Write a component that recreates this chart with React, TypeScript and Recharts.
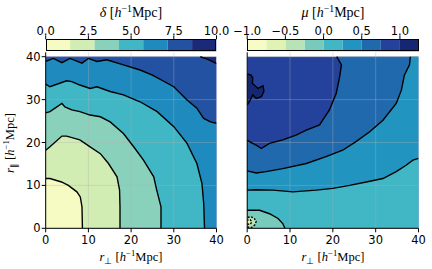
import React from 'react';
import { ComposedChart, Area, Line, XAxis, YAxis, ReferenceLine, BarChart, Bar } from 'recharts';

type Pair = [number, number];

// axis ticks shared by both panels
const axisTicks = [0, 10, 20, 30, 40];
const vGrid = [10, 20, 30];
const hGrid = [10, 20, 30, 40];

// colour bar levels / ticks
const deltaLevels = [0, 1.43, 2.86, 4.29, 5.71, 7.14, 8.57, 10];
const deltaColors = ['#f5fbc2', '#d2edb3', '#89d1ba', '#41b6c4', '#1e8abd', '#2352a2', '#192a7a'];
const deltaTicks = [0, 2.5, 5, 7.5, 10];

const muLevels = [-1, -0.75, -0.5, -0.25, 0, 0.25, 0.5, 0.75, 1, 1.25];
const muColors = ['#f7fcc7', '#e0f3b2', '#b7e3b6', '#78cabc', '#41b6c4', '#2195c0', '#2169ad', '#24429b', '#152773'];
const muTicks = [-1, -0.5, 0, 0.5, 1];

// left panel (delta) contour lines, (r_perp, r_par)
const deltaEdge: Pair[] = [[0, 40], [40, 40]];
const deltaC6: Pair[] = [[0, 40], [36.2, 40], [38, 39.4], [39.8, 38.5], [40, 38.4]];
const deltaC5: Pair[] = [[0, 38.9], [1.8, 39.6], [3.8, 38.6], [5.7, 39.6], [8.5, 38.5], [10, 39.6], [12, 38.9], [14.3, 39.3], [18.2, 38.1], [22.1, 36.9], [25, 35.7], [30, 33], [33.1, 29.9], [35.4, 28], [37, 25.6], [38.6, 24.8], [40, 24.5]];
const deltaC4: Pair[] = [[0, 33.6], [1, 33], [4.9, 34.4], [6.1, 34.2], [8, 33.4], [10.4, 32.6], [12, 33], [15.1, 31.9], [18.2, 31.1], [22.1, 29.5], [26.1, 27.2], [30, 23.7], [33.1, 19.8], [35.4, 15.1], [36.6, 10.4], [37, 5.8], [37.2, 0]];
const deltaC3: Pair[] = [[0, 26.9], [1, 27.2], [3.8, 29.1], [4.5, 28.3], [6.1, 27.6], [8, 27.2], [10.4, 26.4], [12.8, 26], [15.1, 24.8], [18.2, 22.1], [20.6, 19], [22.9, 15.9], [25.3, 12], [26, 8.9], [27, 5], [27, 0]];
const deltaC2: Pair[] = [[0, 18.2], [1, 19], [3.8, 21.5], [4.9, 21.5], [8, 20.6], [10.4, 19], [12.8, 17.4], [14.7, 15.1], [16.7, 12], [17.3, 8.9], [17.4, 5], [17.4, 0]];
const deltaC1: Pair[] = [[0, 11.6], [1, 11.6], [3.7, 10.8], [5.3, 10], [7.3, 8.5], [8.1, 7.3], [8.5, 5], [8.6, 0]];

// right panel (mu) contour lines
const muEdge: Pair[] = [[0, 40], [40, 40]];
const muInner: Pair[] = [[0, 36], [0.9, 35.7], [1.3, 35], [1.2, 33.8], [2.5, 32.6], [3.7, 33.2], [3.9, 31.9], [3.3, 30.7], [2.1, 30.3], [1.3, 31.1], [0.5, 29.5], [0, 28.7]];
const muA: Pair[] = [[0, 20.6], [0.5, 20.2], [2.1, 19.4], [3.3, 18.6], [5.2, 19.8], [8.3, 20.6], [11.4, 21.7], [13.8, 22.9], [16.9, 24.1], [19.2, 27.6], [20.8, 31.5], [21.6, 35.4], [22, 38.1], [20.9, 40]];
const muB: Pair[] = [[0, 13.4], [2.1, 12.9], [4.4, 13.2], [8.3, 13.9], [13.8, 15.1], [18.4, 16.7], [22.3, 18.2], [25.4, 20.2], [28.6, 22.5], [31.7, 25.2], [34.8, 29.1], [36, 32.2], [36.7, 35.7], [37.9, 38.1], [38.1, 40]];
const muC: Pair[] = [[0, 8.9], [2.1, 9], [6, 8.9], [10.7, 8.5], [16.1, 8.9], [20, 9.3], [23.9, 10], [27.8, 10.8], [31.7, 11.6], [34.8, 13.2], [37.1, 14.7], [38.7, 15.9], [40, 16.3]];
const muD: Pair[] = [[0, 4.2], [2.9, 4.2], [5.2, 3.4], [7.2, 2.3], [8.3, 1.1], [8.8, 0]];
const muE: Pair[] = [[0, 0.3], [1, 0.2], [1.8, 0.8], [2.1, 1.6], [1.6, 2.4], [0.8, 2.7], [0, 2.5]];
const muF: Pair[] = [[0, 1], [0.7, 0.9], [1.1, 1.5], [0.7, 2], [0, 1.9]];

const H = 269;
const PLOT_TOP = 52.3;
const PLOT_BOTTOM = 228.3;
const Y_MAX = 41.03;
const CB_TOP = 39.3;
const CB_BOTTOM = 50.8;

const tickStyle = { fontSize: 11.5, fontFamily: 'DejaVu Sans', fill: '#000' };
const mathFont = 'Liberation Serif';

const rows = (p: Pair[]) => p.map(([x, y]) => ({ x, y }));
const fmt = (v: number) => (v < 0 ? '\u2212' + Math.abs(v).toFixed(1) : v.toFixed(1));

type Region = { pts: Pair[]; color: string };
type Contour = { pts: Pair[]; dashed?: boolean };

function Panel({ x0, x1, chartLeft, chartWidth, regions, contours, yLabels }: {
  x0: number; x1: number; chartLeft: number; chartWidth: number;
  regions: Region[]; contours: Contour[]; yLabels: boolean;
}) {
  return (
    <div style={{ position: 'absolute', left: chartLeft, top: 0 }}>
      <ComposedChart
        width={chartWidth}
        height={H}
        margin={{ top: PLOT_TOP, bottom: H - PLOT_BOTTOM - 30, left: x0 - chartLeft - 30, right: chartLeft + chartWidth - x1 }}
      >
        <XAxis type="number" dataKey="x" domain={[0, 40]} ticks={axisTicks} height={30} tickSize={4} tickMargin={4}
          stroke="#000" tick={tickStyle} interval={0} allowDataOverflow />
        <XAxis xAxisId="top" orientation="top" type="number" dataKey="x" domain={[0, 40]} ticks={axisTicks} height={0}
          mirror tick={false} tickSize={4.4} stroke="#000" interval={0} />
        <YAxis type="number" domain={[0, Y_MAX]} ticks={axisTicks} width={30} tickSize={4} tickMargin={1}
          tick={yLabels ? tickStyle : false} stroke="#000" interval={0} allowDataOverflow />
        <YAxis yAxisId="right" orientation="right" type="number" domain={[0, Y_MAX]} ticks={axisTicks} width={0}
          tickSize={4} tick={false} stroke="#000" interval={0} />
        {regions.map((r, i) => (
          <Area key={`r${i}`} data={rows(r.pts)} dataKey="y" type="linear" fill={r.color} fillOpacity={1}
            stroke="none" dot={false} activeDot={false} isAnimationActive={false} />
        ))}
        {vGrid.map((t) => (
          <ReferenceLine key={`v${t}`} x={t} stroke="#b0b0b0" strokeOpacity={0.45} strokeWidth={0.8} />
        ))}
        {hGrid.map((t) => (
          <ReferenceLine key={`h${t}`} y={t} stroke="#b0b0b0" strokeOpacity={0.45} strokeWidth={0.8} />
        ))}
        {contours.map((c, i) => (
          <Line key={`c${i}`} data={rows(c.pts)} dataKey="y" type="linear" stroke="#000" strokeWidth={1.4}
            strokeDasharray={c.dashed ? '2 1.5' : undefined} dot={false} activeDot={false} isAnimationActive={false} />
        ))}
      </ComposedChart>
    </div>
  );
}

function ColorBar({ levels, colors, ticks, x0, x1, chartLeft, chartWidth }: {
  levels: number[]; colors: string[]; ticks: number[]; x0: number; x1: number; chartLeft: number; chartWidth: number;
}) {
  const bands = colors.map((color, i) => ({ key: `b${i}`, lo: levels[i], hi: levels[i + 1], color }));
  const row: Record<string, number | string> = { name: 'cb' };
  bands.forEach((b) => { row[b.key] = b.hi <= 0 ? b.lo - b.hi : b.hi - b.lo; });
  const order = [...bands.filter((b) => b.hi <= 0).reverse(), ...bands.filter((b) => b.hi > 0)];
  const CH = 60;
  return (
    <div style={{ position: 'absolute', left: chartLeft, top: 0 }}>
      <BarChart
        layout="vertical"
        width={chartWidth}
        height={CH}
        data={[row]}
        stackOffset="sign"
        barCategoryGap={0}
        margin={{ top: CB_TOP - 20, bottom: CH - CB_BOTTOM, left: x0 - chartLeft, right: chartLeft + chartWidth - x1 }}
      >
        <XAxis type="number" orientation="top" domain={[levels[0], levels[levels.length - 1]]} ticks={ticks}
          height={20} interval={0} tickSize={4} tickMargin={0.5} tickFormatter={fmt} tick={tickStyle}
          stroke="#000" axisLine={false} allowDataOverflow />
        <YAxis type="category" dataKey="name" hide />
        {order.map((b) => (
          <Bar key={b.key} dataKey={b.key} stackId="cb" fill={b.color} isAnimationActive={false} />
        ))}
      </BarChart>
      <div style={{
        position: 'absolute', left: x0 - chartLeft, top: CB_TOP, width: x1 - x0, height: CB_BOTTOM - CB_TOP,
        border: '0.8px solid #000', boxSizing: 'border-box',
      }} />
    </div>
  );
}

const unit = (size: number) => {
  const sup = size * 0.7;
  const up = size * 0.38;
  return [
    <tspan key="a"> [</tspan>,
    <tspan key="b" fontStyle="italic">h</tspan>,
    <tspan key="c" fontSize={sup} dy={-up}>{'\u2212'}1</tspan>,
    <tspan key="d" dy={up}>Mpc]</tspan>,
  ];
};

const App: React.FC = () => {
  return (
    <div style={{ position: 'absolute', left: 0, top: 0, width: 432, height: H, background: '#fff' }}>
      <Panel
        x0={45.7} x1={216.5} chartLeft={0} chartWidth={224} yLabels
        regions={[
          { pts: deltaEdge, color: deltaColors[6] },
          { pts: deltaC6, color: deltaColors[5] },
          { pts: deltaC5, color: deltaColors[4] },
          { pts: deltaC4, color: deltaColors[3] },
          { pts: deltaC3, color: deltaColors[2] },
          { pts: deltaC2, color: deltaColors[1] },
          { pts: deltaC1, color: deltaColors[0] },
        ]}
        contours={[
          { pts: deltaC6.slice(1) }, { pts: deltaC5 }, { pts: deltaC4 }, { pts: deltaC3 }, { pts: deltaC2 }, { pts: deltaC1 },
        ]}
      />
      <Panel
        x0={247.2} x1={418.5} chartLeft={216} chartWidth={216} yLabels={false}
        regions={[
          { pts: muEdge, color: muColors[7] },
          { pts: muInner, color: muColors[8] },
          { pts: [...muA, [40, 40]], color: muColors[6] },
          { pts: [...muB, [40, 40]], color: muColors[5] },
          { pts: muC, color: muColors[4] },
          { pts: muD, color: muColors[3] },
          { pts: muE, color: muColors[2] },
          { pts: muF, color: muColors[1] },
        ]}
        contours={[
          { pts: muInner }, { pts: muA }, { pts: muB }, { pts: muC }, { pts: muD },
          { pts: muE, dashed: true }, { pts: muF, dashed: true },
        ]}
      />
      <ColorBar levels={deltaLevels} colors={deltaColors} ticks={deltaTicks} x0={45.7} x1={216.5} chartLeft={0} chartWidth={234} />
      <ColorBar levels={muLevels} colors={muColors} ticks={muTicks} x0={247.2} x1={419} chartLeft={226} chartWidth={206} />
      <svg width={432} height={H} style={{ position: 'absolute', left: 0, top: 0, pointerEvents: 'none' }}>
        <text x={131} y={17} textAnchor="middle" fontFamily={mathFont} fontSize={14}>
          <tspan fontStyle="italic">δ</tspan>{unit(14)}
        </text>
        <text x={333} y={17} textAnchor="middle" fontFamily={mathFont} fontSize={14}>
          <tspan fontStyle="italic">μ</tspan>{unit(14)}
        </text>
        {[131, 333].map((cx) => (
          <text key={cx} x={cx} y={261} textAnchor="middle" fontFamily={mathFont} fontSize={12.5}>
            <tspan fontStyle="italic">r</tspan>
            <tspan fontSize={8.5} dy={2.5}>⊥</tspan>
            <tspan dy={-2.5}>{' '}</tspan>
            {unit(12.5)}
          </text>
        ))}
        <text x={0} y={0} transform="translate(14,143) rotate(-90)" textAnchor="middle" fontFamily={mathFont} fontSize={12.5}>
          <tspan fontStyle="italic">r</tspan>
          <tspan fontSize={8.5} dy={2.5}>∥</tspan>
          <tspan dy={-2.5}>{' '}</tspan>
          {unit(12.5)}
        </text>
      </svg>
    </div>
  );
}

export default App;
